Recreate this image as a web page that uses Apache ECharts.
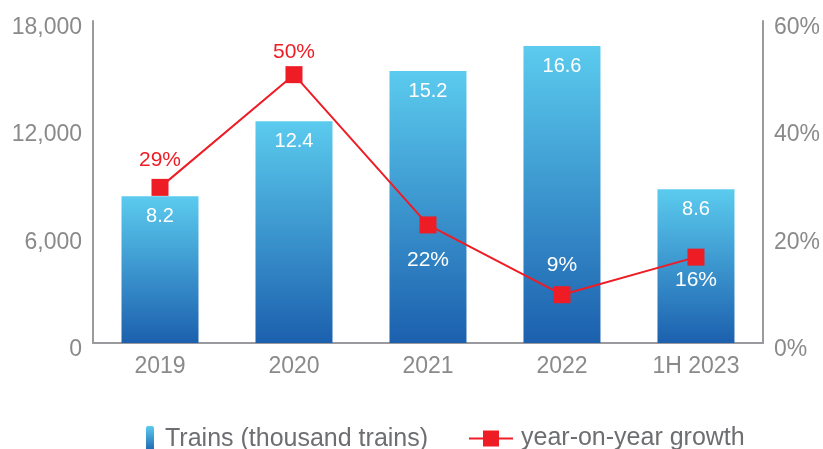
<!DOCTYPE html>
<html><head><meta charset="utf-8">
<script src="https://cdn.jsdelivr.net/npm/echarts@6/dist/echarts.min.js"></script>
<style>html,body{margin:0;padding:0;background:#fff}#c{width:823px;height:449px}</style>
</head><body><div id="c"></div>
<script>
var categories = ['2019', '2020', '2021', '2022', '1H 2023'];
var trains = [8200, 12400, 15200, 16600, 8600];
var trainLabels = ['8.2', '12.4', '15.2', '16.6', '8.6'];
var growth = [29, 50, 22, 9, 16];
var leftTicks = [0, 6000, 12000, 18000];
var rightTicks = [0, 20, 40, 60];

var font = 'Liberation Sans, Arial, sans-serif';
var chart = echarts.init(document.getElementById('c'));
var grad = new echarts.graphic.LinearGradient(0, 0, 0, 1, [
  {offset: 0, color: '#5BCBEE'}, {offset: 1, color: '#1C60AE'}]);
var labelCfg = [
  {position: 'top', distance: 8, color: '#EE1C25'},
  {position: 'top', distance: 3, color: '#EE1C25'},
  {position: 'bottom', distance: 16, color: '#ffffff'},
  {position: 'top', distance: 10, color: '#ffffff'},
  {position: 'bottom', distance: 4, color: '#ffffff'}
];
chart.setOption({
  animation: false,
  textStyle: {fontFamily: font},
  grid: {left: 93, right: 58, top: 21, bottom: 106},
  legend: [{
    data: [{name: 'Trains (thousand trains)', itemStyle: {color: grad}}],
    left: 141, top: 421, itemWidth: 8, itemHeight: 26,
    textStyle: {fontSize: 25, color: '#6D6E71', fontFamily: font, padding: [0, 0, 0, 6]}
  }, {
    data: ['year-on-year growth'],
    left: 463, top: 421, itemWidth: 44, itemHeight: 20,
    textStyle: {fontSize: 25, color: '#6D6E71', fontFamily: font, padding: [0, 0, 0, 3]}
  }],
  xAxis: {
    type: 'category', data: categories,
    axisLine: {lineStyle: {color: '#9A9A9E', width: 2}},
    axisTick: {show: false},
    axisLabel: {fontSize: 23, color: '#8A8A8A', margin: 12}
  },
  yAxis: [{
    type: 'value', min: 0, max: 18000, interval: 6000,
    axisLine: {show: true, lineStyle: {color: '#9A9A9E', width: 2}},
    axisTick: {show: false}, splitLine: {show: false},
    axisLabel: {fontSize: 23, color: '#8A8A8A', margin: 11, verticalAlign: 'top', lineHeight: 13,
      formatter: function (v) { return leftTicks.indexOf(v) >= 0 ? v.toLocaleString('en-US') : ''; }}
  }, {
    type: 'value', min: 0, max: 60, interval: 20, position: 'right',
    axisLine: {show: true, lineStyle: {color: '#9A9A9E', width: 2}},
    axisTick: {show: false}, splitLine: {show: false},
    axisLabel: {fontSize: 23, color: '#8A8A8A', margin: 11, verticalAlign: 'top', lineHeight: 13,
      formatter: function (v) { return rightTicks.indexOf(v) >= 0 ? v + '%' : ''; }}
  }],
  series: [{
    name: 'Trains (thousand trains)', type: 'bar', data: trains, barWidth: 77,
    itemStyle: {color: grad},
    label: {show: true, position: 'insideTop', distance: 10, color: '#fff', fontSize: 20,
      formatter: function (p) { return trainLabels[p.dataIndex]; }}
  }, {
    name: 'year-on-year growth', type: 'line', yAxisIndex: 1,
    data: growth.map(function (v, i) {
      return {value: v, label: {show: true, position: labelCfg[i].position,
        distance: labelCfg[i].distance, color: labelCfg[i].color}};
    }),
    symbol: 'rect', symbolSize: 17,
    itemStyle: {color: '#EE1C25'}, lineStyle: {color: '#EE1C25', width: 2},
    label: {show: true, fontSize: 21, formatter: '{c}%'},
    z: 5
  }]
});
</script></body></html>
